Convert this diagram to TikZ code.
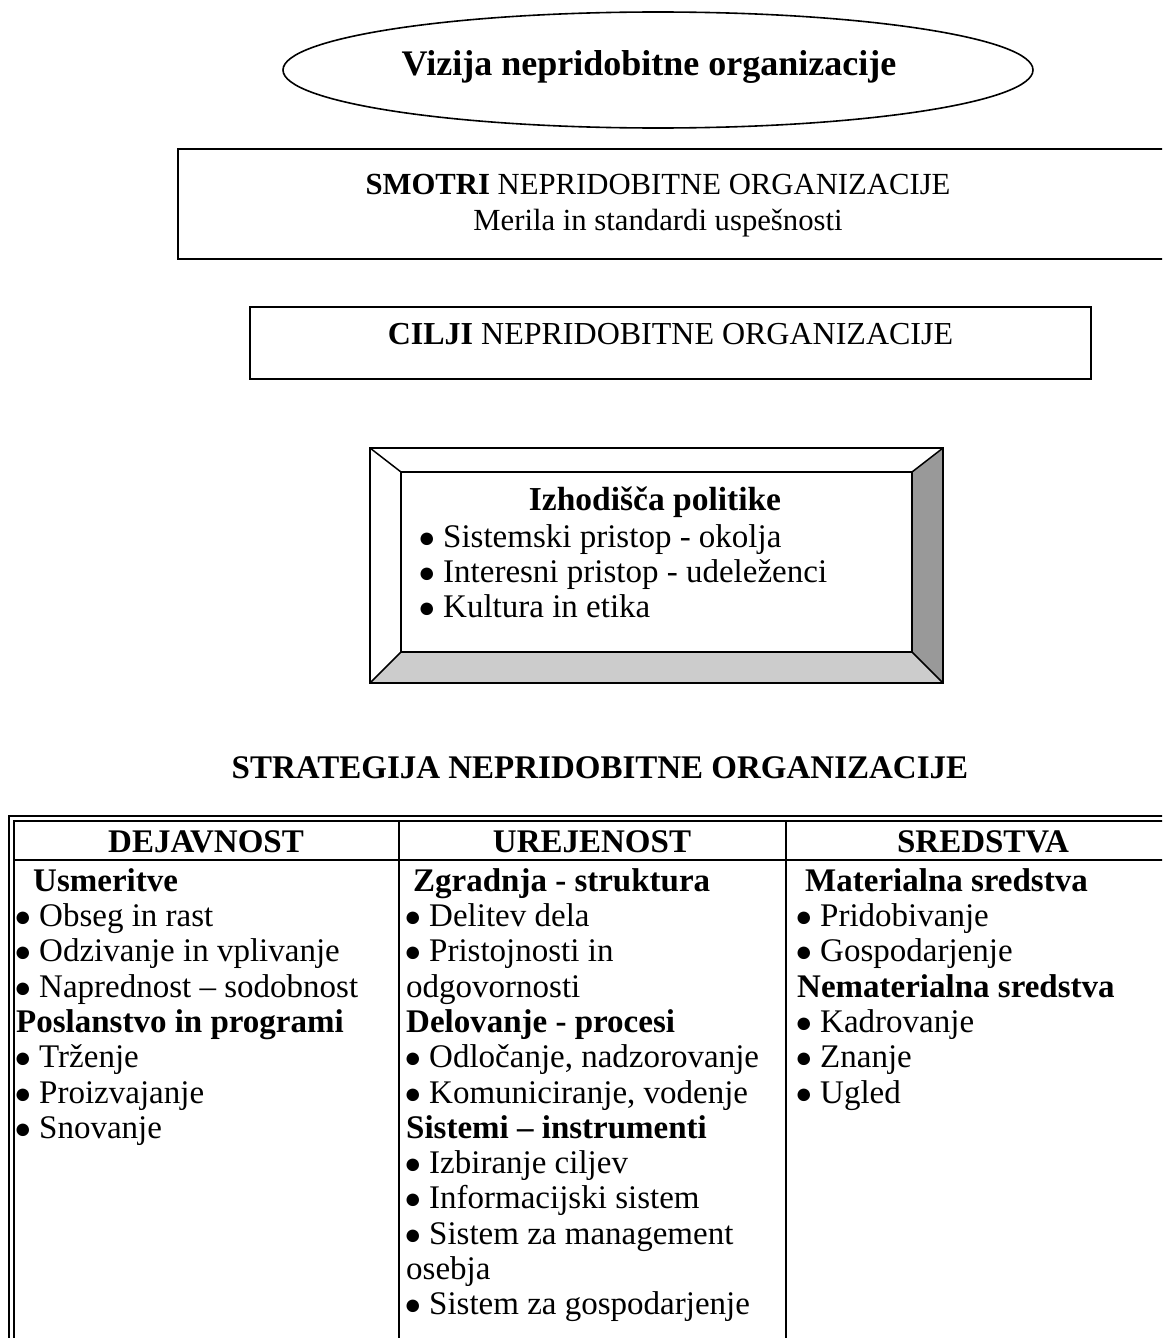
\documentclass[tikz,border=0pt]{standalone}
\usepackage{fontspec}
\setmainfont{Liberation Serif}
\usetikzlibrary{shapes.geometric}
\definecolor{bevelbottom}{HTML}{CCCCCC}
\definecolor{bevelright}{HTML}{999999}
\newcommand\bul{\makebox[23pt][l]{\hspace{-2pt}\fontsize{29}{29}\selectfont ●}}
\newcommand\boxfont{\fontsize{30.7}{35.3}\selectfont}
\newcommand\bevelfont{\fontsize{33}{35}\selectfont}
\newcommand\tablefont{\fontsize{33}{35.3}\selectfont}
\newcommand\bigtitlefont{\fontsize{36}{40}\selectfont\bfseries}
\newcommand\firstline{\rule{0pt}{25pt}}

\begin{document}
\begin{tikzpicture}[x=1pt,y=-1pt,
  frame/.style={draw, line width=1.6pt},
  rule/.style={line width=1.5pt},
  txt/.style={inner sep=0pt, font=\boxfont},
  cell/.style={inner sep=0pt, font=\tablefont, align=left, anchor=north west}]
\useasboundingbox (0,0) rectangle (1162,1338);
\clip (0,0) rectangle (1162,1338);

% vision
\node[ellipse, frame, minimum width=750pt, minimum height=116pt, inner sep=0pt] (vizija) at (658,70) {};
\node[txt, font=\bigtitlefont, anchor=base] (vizijatxt) at (649,75) {Vizija nepridobitne organizacije};

% purposes
\coordinate (smotriNW) at (178,149);
\coordinate (smotriSE) at (1180,259);
\draw[frame] (smotriNW) rectangle (smotriSE);
\node[txt, anchor=base] (smotri1) at (658,194) {\textbf{SMOTRI} NEPRIDOBITNE ORGANIZACIJE};
\node[txt, anchor=base] (smotri2) at (658,230) {Merila in standardi uspešnosti};

% goals
\node[frame, minimum width=841pt, minimum height=72pt, inner sep=0pt] (cilji) at (670.5,343) {};
\node[txt, font=\fontsize{32}{35}\selectfont, anchor=base] (ciljitxt) at (670.5,344) {\textbf{CILJI} NEPRIDOBITNE ORGANIZACIJE};

% policy bases: bevelled frame
\coordinate (bo1) at (370,448); \coordinate (bo2) at (943,448);
\coordinate (bo3) at (943,683); \coordinate (bo4) at (370,683);
\coordinate (bi1) at (401,472); \coordinate (bi2) at (912,472);
\coordinate (bi3) at (912,652); \coordinate (bi4) at (401,652);
\fill[bevelbottom] (bo4) -- (bi4) -- (bi3) -- (bo3) -- cycle;
\fill[bevelright] (bo2) -- (bi2) -- (bi3) -- (bo3) -- cycle;
\draw[rule] (bo1) -- (bo2) -- (bo3) -- (bo4) -- cycle;
\draw[rule] (bi1) -- (bi2) -- (bi3) -- (bi4) -- cycle;
\draw[rule] (bo1) -- (bi1) (bo2) -- (bi2) (bo3) -- (bi3) (bo4) -- (bi4);
\node[txt, font=\fontsize{33.5}{35}\selectfont, anchor=base] (izhodisca) at (655,510) {\textbf{Izhodišča politike}};
\node[cell, font=\bevelfont] (izhlist) at (420,522) {\firstline\bul Sistemski pristop - okolja\\ \bul Interesni pristop - udeleženci\\ \bul Kultura in etika};

% strategy
\node[txt, font=\fontsize{33}{36}\selectfont, anchor=base] (strategija) at (600,778) {\textbf{STRATEGIJA NEPRIDOBITNE ORGANIZACIJE}};

% table frame (double outer line on the left and on top)
\coordinate (tOut) at (9,816);
\coordinate (tIn) at (14,821);
\draw[rule] (1180,816) -- (tOut) -- (9,1350);
\draw[rule] (1180,821) -- (tIn) -- (14,1350);
\draw[rule] (14,860) -- (1180,860);
\draw[rule] (399,821) -- (399,1350);
\draw[rule] (786,821) -- (786,1350);

\node[txt, font=\fontsize{33}{35}\selectfont, anchor=base] (h1) at (206,852) {\textbf{DEJAVNOST}};
\node[txt, font=\fontsize{33}{35}\selectfont, anchor=base] (h2) at (592,852) {\textbf{UREJENOST}};
\node[txt, font=\fontsize{33}{35}\selectfont, anchor=base] (h3) at (983,852) {\textbf{SREDSTVA}};

\node[cell] (c1) at (16,866) {\firstline\hspace{17pt}\textbf{Usmeritve}\\
\bul Obseg in rast\\
\bul Odzivanje in vplivanje\\
\bul Naprednost – sodobnost\\
\textbf{Poslanstvo in programi}\\
\bul Trženje\\
\bul Proizvajanje\\
\bul Snovanje};

\node[cell] (c2) at (406,866) {\firstline\hspace{7pt}\textbf{Zgradnja - struktura}\\
\bul Delitev dela\\
\bul Pristojnosti in\\
odgovornosti\\
\textbf{Delovanje - procesi}\\
\bul Odločanje, nadzorovanje\\
\bul Komuniciranje, vodenje\\
\textbf{Sistemi – instrumenti}\\
\bul Izbiranje ciljev\\
\bul Informacijski sistem\\
\bul Sistem za management\\
osebja\\
\bul Sistem za gospodarjenje};

\node[cell] (c3) at (797,866) {\firstline\hspace{8pt}\textbf{Materialna sredstva}\\
\bul Pridobivanje\\
\bul Gospodarjenje\\
\textbf{Nematerialna sredstva}\\
\bul Kadrovanje\\
\bul Znanje\\
\bul Ugled};
\end{tikzpicture}
\end{document}
